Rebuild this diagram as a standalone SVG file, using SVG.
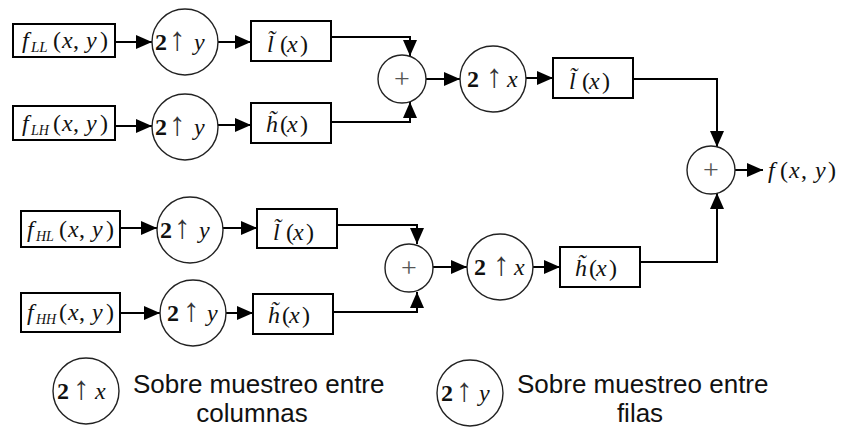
<svg xmlns="http://www.w3.org/2000/svg" width="842" height="429" viewBox="0 0 842 429">
<style>
.box{fill:#fff;stroke:#000;stroke-width:2}
.circ{fill:#fff;stroke:#222;stroke-width:1.4}
.conn{fill:none;stroke:#000;stroke-width:2;marker-end:url(#ah)}
.m{font-family:"Liberation Serif","Times New Roman",serif;font-size:24px;fill:#111}
.i{font-style:italic}
.b{font-weight:bold}
.ar{font-size:33px;fill:#333}
.sub{font-size:15px;font-style:italic}
.subh{font-size:14px;font-style:italic}
.pl{font-family:"Liberation Serif",serif;font-size:28px;fill:#555;text-anchor:middle}
.leg{font-family:"Liberation Sans",Arial,sans-serif;font-size:26px;fill:#111}
</style>
<defs>
<marker id="ah" markerUnits="userSpaceOnUse" markerWidth="16" markerHeight="14" viewBox="0 0 16 14" refX="16" refY="7" orient="auto">
<path d="M0,0 L16,7 L0,14 z" fill="#000"/>
</marker>
</defs>

<g id="connectors">
<line class="conn" x1="115" y1="42" x2="152" y2="42"/>
<line class="conn" x1="218" y1="42" x2="251" y2="42"/>
<polyline class="conn" points="331,37 410,37 410,56"/>
<line class="conn" x1="115" y1="126" x2="152" y2="126"/>
<line class="conn" x1="218" y1="125" x2="251" y2="125"/>
<polyline class="conn" points="331,122 410,122 410,102"/>
<line class="conn" x1="426" y1="79" x2="460" y2="79"/>
<line class="conn" x1="526" y1="78" x2="553" y2="78"/>
<polyline class="conn" points="633,79 717,79 717,147"/>
<line class="conn" x1="735" y1="170" x2="763" y2="170"/>
<line class="conn" x1="120" y1="228" x2="157" y2="228"/>
<line class="conn" x1="223" y1="228" x2="257" y2="228"/>
<polyline class="conn" points="337,225 417,225 417,244"/>
<line class="conn" x1="120" y1="313" x2="160" y2="313"/>
<line class="conn" x1="226" y1="313" x2="253" y2="313"/>
<polyline class="conn" points="333,312 417,312 417,292"/>
<line class="conn" x1="433" y1="267" x2="467" y2="267"/>
<line class="conn" x1="533" y1="267" x2="560" y2="267"/>
<polyline class="conn" points="640,262 717,262 717,193"/>
</g>

<g id="fLL" transform="translate(13,24)">
<rect class="box" x="0" y="0" width="102" height="33"/>
<text class="m" y="24"><tspan class="i" x="9">f</tspan><tspan class="sub" x="18" y="28">LL</tspan><tspan x="40" y="24">(</tspan><tspan class="i" x="49">x</tspan><tspan x="60">,</tspan><tspan class="i" x="73">y</tspan><tspan x="87">)</tspan></text>
</g>
<g id="fLH" transform="translate(13,106)">
<rect class="box" x="0" y="0" width="102" height="34"/>
<text class="m" y="25"><tspan class="i" x="9">f</tspan><tspan class="subh" x="18" y="29">LH</tspan><tspan x="40" y="25">(</tspan><tspan class="i" x="49">x</tspan><tspan x="60">,</tspan><tspan class="i" x="73">y</tspan><tspan x="87">)</tspan></text>
</g>
<g id="fHL" transform="translate(21,211)">
<rect class="box" x="0" y="0" width="99" height="36"/>
<text class="m" y="26"><tspan class="i" x="6">f</tspan><tspan class="subh" x="15" y="30">HL</tspan><tspan x="38" y="26">(</tspan><tspan class="i" x="47">x</tspan><tspan x="58">,</tspan><tspan class="i" x="71">y</tspan><tspan x="85">)</tspan></text>
</g>
<g id="fHH" transform="translate(21,293)">
<rect class="box" x="0" y="0" width="99" height="39"/>
<text class="m" y="27"><tspan class="i" x="6">f</tspan><tspan class="subh" x="15" y="31">HH</tspan><tspan x="38" y="27">(</tspan><tspan class="i" x="47">x</tspan><tspan x="58">,</tspan><tspan class="i" x="71">y</tspan><tspan x="85">)</tspan></text>
</g>

<g id="up_y1" transform="translate(185,42)">
<circle class="circ" r="33"/>
<text class="m" y="8"><tspan class="b" x="-30">2</tspan><tspan class="ar" x="-16">↑</tspan><tspan class="i" x="9">y</tspan></text>
</g>
<g id="up_y2" transform="translate(185,127)">
<circle class="circ" r="33"/>
<text class="m" y="8"><tspan class="b" x="-30">2</tspan><tspan class="ar" x="-16">↑</tspan><tspan class="i" x="9">y</tspan></text>
</g>
<g id="up_y3" transform="translate(190,230)">
<circle class="circ" r="33"/>
<text class="m" y="8"><tspan class="b" x="-30">2</tspan><tspan class="ar" x="-16">↑</tspan><tspan class="i" x="9">y</tspan></text>
</g>
<g id="up_y4" transform="translate(193,313)">
<circle class="circ" r="33"/>
<text class="m" y="8"><tspan class="b" x="-26">2</tspan><tspan class="ar" x="-10">↑</tspan><tspan class="i" x="14">y</tspan></text>
</g>

<g id="l1" transform="translate(251,21)">
<rect class="box" x="0" y="0" width="80" height="40"/>
<text class="m" y="31"><tspan class="i" x="16">l̃</tspan><tspan x="29">(</tspan><tspan class="i" x="36">x</tspan><tspan x="49">)</tspan></text>
</g>
<g id="h1" transform="translate(251,103)">
<rect class="box" x="0" y="0" width="80" height="40"/>
<text class="m" y="29"><tspan class="i" x="15">h̃</tspan><tspan x="29">(</tspan><tspan class="i" x="36">x</tspan><tspan x="49">)</tspan></text>
</g>
<g id="l3" transform="translate(257,209)">
<rect class="box" x="0" y="0" width="80" height="39"/>
<text class="m" y="31"><tspan class="i" x="16">l̃</tspan><tspan x="29">(</tspan><tspan class="i" x="36">x</tspan><tspan x="49">)</tspan></text>
</g>
<g id="h4" transform="translate(253,294)">
<rect class="box" x="0" y="0" width="80" height="40"/>
<text class="m" y="29"><tspan class="i" x="15">h̃</tspan><tspan x="29">(</tspan><tspan class="i" x="36">x</tspan><tspan x="49">)</tspan></text>
</g>

<g id="sum_top" transform="translate(402,79)">
<circle class="circ" r="24"/>
<text class="pl" y="9">+</text>
</g>
<g id="sum_bot" transform="translate(409,268)">
<circle class="circ" r="24"/>
<text class="pl" y="9">+</text>
</g>

<g id="up_x1" transform="translate(493,79)">
<circle class="circ" r="33"/>
<text class="m" y="8"><tspan class="b" x="-26">2</tspan><tspan class="ar" x="-7">↑</tspan><tspan class="i" x="14">x</tspan></text>
</g>
<g id="up_x2" transform="translate(500,267)">
<circle class="circ" r="33"/>
<text class="m" y="8"><tspan class="b" x="-26">2</tspan><tspan class="ar" x="-7">↑</tspan><tspan class="i" x="14">x</tspan></text>
</g>

<g id="l2" transform="translate(553,58)">
<rect class="box" x="0" y="0" width="80" height="40"/>
<text class="m" y="31"><tspan class="i" x="16">l̃</tspan><tspan x="29">(</tspan><tspan class="i" x="36">x</tspan><tspan x="49">)</tspan></text>
</g>
<g id="h2" transform="translate(560,247)">
<rect class="box" x="0" y="0" width="80" height="40"/>
<text class="m" y="29"><tspan class="i" x="15">h̃</tspan><tspan x="29">(</tspan><tspan class="i" x="36">x</tspan><tspan x="49">)</tspan></text>
</g>

<g id="sum_final" transform="translate(711,170)">
<circle class="circ" r="24"/>
<text class="pl" y="9">+</text>
</g>
<g id="output">
<text class="m" y="178"><tspan class="i" x="768">f</tspan><tspan x="780">(</tspan><tspan class="i" x="789">x</tspan><tspan x="801">,</tspan><tspan class="i" x="815">y</tspan><tspan x="828">)</tspan></text>
</g>

<g id="legend_x" transform="translate(86,391)">
<circle class="circ" r="33"/>
<text class="m" y="8"><tspan class="b" x="-29">2</tspan><tspan class="ar" x="-13">↑</tspan><tspan class="i" x="9">x</tspan></text>
</g>
<g id="legend_x_text">
<text class="leg" x="133" y="393">Sobre muestreo entre</text>
<text class="leg" x="252" y="422" text-anchor="middle">columnas</text>
</g>
<g id="legend_y" transform="translate(470,393)">
<circle class="circ" r="33"/>
<text class="m" y="8"><tspan class="b" x="-29">2</tspan><tspan class="ar" x="-14">↑</tspan><tspan class="i" x="9">y</tspan></text>
</g>
<g id="legend_y_text">
<text class="leg" x="517" y="393">Sobre muestreo entre</text>
<text class="leg" x="640" y="422" text-anchor="middle">filas</text>
</g>
</svg>
